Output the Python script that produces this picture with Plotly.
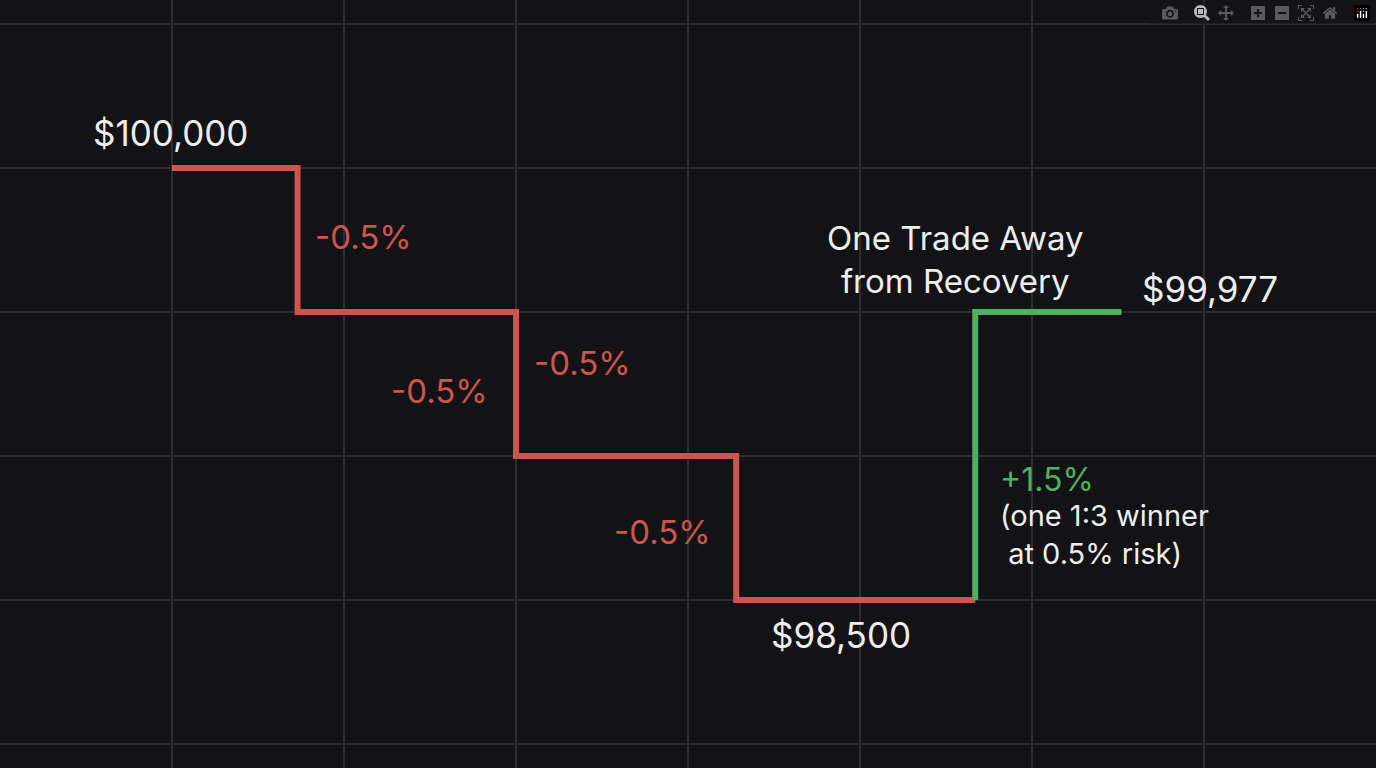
import plotly.graph_objects as go

# data
red_x = [1, 1.73, 3, 4.28, 5.67]
red_y = [100000, 99500, 99000, 98500, 98500]
green_x = [5.67, 5.67, 6.52]
green_y = [98500, 99500, 99500]
loss_labels = ["-0.5%", "-0.5%", "-0.5%", "-0.5%"]
loss_x = [2.116, 3.384, 2.558, 3.849]
loss_y = [99760, 99323, 99226, 98736]

RED = "#cd5450"
GREEN = "#4fb061"
WHITE = "#eeeeee"

fig = go.Figure()
fig.add_trace(go.Scatter(x=red_x, y=red_y, mode="lines", line=dict(color=RED, width=6, shape="hv"), hoverinfo="skip"))
fig.add_trace(go.Scatter(x=green_x, y=green_y, mode="lines", line=dict(color=GREEN, width=6), hoverinfo="skip"))

ann = [
    dict(x=0.99, y=100121, text="$100,000", font=dict(color=WHITE, size=35)),
    dict(x=4.89, y=98378, text="$98,500", font=dict(color=WHITE, size=35)),
    dict(x=7.035, y=99580, text="$99,977", font=dict(color=WHITE, size=35)),
    dict(x=5.558, y=99681, text="One Trade Away<br>from Recovery", font=dict(color=WHITE, size=33)),
    dict(x=5.80, y=98917, text="+1.5%", xanchor="left", font=dict(color=GREEN, size=32)),
    dict(x=5.80, y=98726, text="(one 1:3 winner<br> at 0.5% risk)", xanchor="left", align="left", font=dict(color=WHITE, size=29)),
]
for t, x, y in zip(loss_labels, loss_x, loss_y):
    ann.append(dict(x=x, y=y, text=t, font=dict(color=RED, size=33)))
for a in ann:
    a.setdefault("xanchor", "center")
    a.update(showarrow=False, yanchor="middle", xref="x", yref="y")

fig.update_layout(
    width=1376, height=768, margin=dict(l=0, r=0, t=0, b=0),
    paper_bgcolor="#131316", plot_bgcolor="#131316",
    showlegend=False, font=dict(family="Inter"),
    annotations=ann,
    xaxis=dict(range=[0, 8], dtick=1, tick0=0, showgrid=True, gridcolor="#2c2c31", gridwidth=1.5,
               zeroline=False, showticklabels=False, ticks=""),
    yaxis=dict(range=[97916.7, 100583.3], dtick=500, tick0=98000, showgrid=True, gridcolor="#2c2c31", gridwidth=1.5,
               zeroline=False, showticklabels=False, ticks=""),
)
fig.write_html("out.html", post_script="document.body.style.margin='0';document.body.style.background='#131316';")
